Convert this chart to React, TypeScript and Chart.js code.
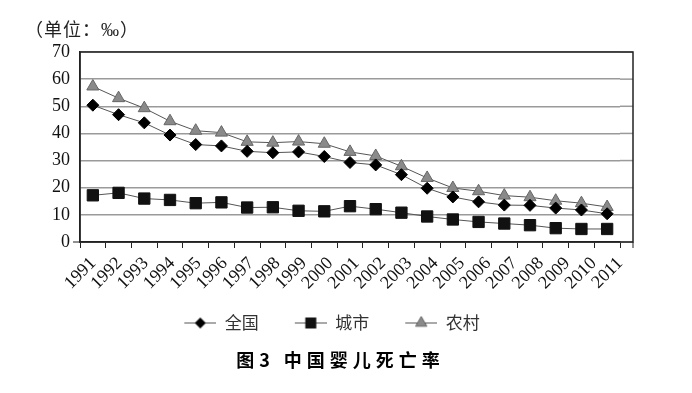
import React, { useEffect, useRef } from 'react';
import { Chart, registerables } from 'chart.js';

Chart.register(...registerables);

const years = ['1991','1992','1993','1994','1995','1996','1997','1998','1999','2000','2001','2002','2003','2004','2005','2006','2007','2008','2009','2010','2011'];
const national = [50.4, 46.9, 43.9, 39.4, 35.9, 35.4, 33.4, 32.9, 33.2, 31.5, 29.3, 28.4, 24.8, 19.8, 16.6, 14.8, 13.6, 13.5, 12.5, 11.8, 10.4];
const urban = [17.2, 18.1, 16.0, 15.5, 14.3, 14.6, 12.7, 12.8, 11.5, 11.3, 13.2, 12.1, 10.8, 9.4, 8.3, 7.4, 6.8, 6.2, 5.1, 4.8, 4.8];
const rural = [57.3, 53.0, 49.3, 44.5, 41.0, 40.3, 36.9, 36.6, 37.0, 36.2, 33.2, 31.7, 27.9, 23.6, 19.9, 18.7, 17.1, 16.5, 15.2, 14.3, 12.9];
const seriesNames = ['全国', '城市', '农村'];
const yMin = 0;
const yMax = 70;
const yStep = 10;
const unitLabel = '（单位：‰）';
const chartTitle = '图3 中国婴儿死亡率';

const LINE_COLOR = '#555';
const GRID_COLOR = '#9a9a9a';
const AXIS_COLOR = '#222';
const TRI_FILL = '#8a8a8a';
const TRI_BORDER = '#666';
const EXT = 13; // extra blank strip at the right of the plot frame
const ICON_GAP = 16; // blank lead-in of each legend icon
const ICON_W = 32;

function makeIcon(kind: string): HTMLCanvasElement {
  const c = document.createElement('canvas');
  c.width = ICON_GAP + ICON_W;
  c.height = 16;
  const ctx = c.getContext('2d')!;
  ctx.strokeStyle = LINE_COLOR;
  ctx.lineWidth = 1;
  ctx.beginPath();
  ctx.moveTo(ICON_GAP, 8.5);
  ctx.lineTo(ICON_GAP + ICON_W, 8.5);
  ctx.stroke();
  const cx = ICON_GAP + ICON_W / 2, cy = 8.5;
  ctx.beginPath();
  if (kind === 'diamond') {
    const r = 5.5;
    ctx.moveTo(cx, cy - r);
    ctx.lineTo(cx + r, cy);
    ctx.lineTo(cx, cy + r);
    ctx.lineTo(cx - r, cy);
    ctx.closePath();
    ctx.fillStyle = '#000';
    ctx.fill();
  } else if (kind === 'square') {
    const s = 5.5;
    ctx.rect(cx - s, cy - s, 2 * s, 2 * s);
    ctx.fillStyle = '#111';
    ctx.fill();
  } else {
    const r = 6.5;
    ctx.moveTo(cx, cy - r);
    ctx.lineTo(cx + r * Math.sin(Math.PI * 2 / 3), cy + r / 2);
    ctx.lineTo(cx - r * Math.sin(Math.PI * 2 / 3), cy + r / 2);
    ctx.closePath();
    ctx.fillStyle = TRI_FILL;
    ctx.fill();
    ctx.strokeStyle = TRI_BORDER;
    ctx.stroke();
  }
  return c;
}

const decorPlugin = {
  id: 'decor',
  beforeDatasetsDraw(chart: any) {
    const { ctx, chartArea: a, scales } = chart;
    const y = scales.y;
    ctx.save();
    ctx.strokeStyle = GRID_COLOR;
    ctx.lineWidth = 1.5;
    y.ticks.forEach((t: any) => {
      const py = y.getPixelForValue(t.value);
      ctx.beginPath();
      ctx.moveTo(a.right, py);
      ctx.lineTo(a.right + EXT, py);
      ctx.stroke();
    });
    ctx.strokeStyle = AXIS_COLOR;
    ctx.lineWidth = 1.5;
    ctx.strokeRect(a.left, a.top, a.right + EXT - a.left, a.bottom - a.top);
    const y0 = y.getPixelForValue(yMin);
    ctx.lineWidth = 1;
    ctx.beginPath();
    ctx.moveTo(a.left - 7, y0);
    ctx.lineTo(a.left, y0);
    ctx.moveTo(a.right + EXT, a.bottom);
    ctx.lineTo(a.right + EXT, a.bottom + 6);
    ctx.stroke();
    ctx.restore();
  },
  afterDraw(chart: any) {
    const { ctx } = chart;
    ctx.save();
    ctx.fillStyle = '#222';
    ctx.font = '18px "Liberation Serif", "Noto Sans CJK SC"';
    ctx.textAlign = 'left';
    ctx.textBaseline = 'middle';
    (ctx as any).letterSpacing = '1px';
    ctx.fillText(unitLabel, 25, 31);

    ctx.fillStyle = '#000';
    ctx.font = 'bold 18px "Noto Sans CJK SC"';
    (ctx as any).letterSpacing = '5px';
    const w = ctx.measureText(chartTitle).width - 5;
    ctx.fillText(chartTitle, 338 - w / 2, 360);
    ctx.restore();
  },
};

export default function App() {
  const ref = useRef<HTMLCanvasElement>(null);

  useEffect(() => {
    const canvas = ref.current!;
    const icons = [makeIcon('diamond'), makeIcon('square'), makeIcon('triangle')];
    const chart = new Chart(canvas, {
      type: 'line',
      data: {
        labels: years,
        datasets: [
          {
            label: seriesNames[0],
            data: national,
            borderColor: LINE_COLOR,
            borderWidth: 1,
            pointStyle: 'rectRot',
            pointRadius: 6,
            pointBackgroundColor: '#000',
            pointBorderColor: '#000',
            pointBorderWidth: 1,
          },
          {
            label: seriesNames[1],
            data: urban,
            borderColor: LINE_COLOR,
            borderWidth: 1,
            pointStyle: 'rect',
            pointRadius: 8,
            pointBackgroundColor: '#111',
            pointBorderColor: '#111',
            pointBorderWidth: 1,
          },
          {
            label: seriesNames[2],
            data: rural,
            borderColor: LINE_COLOR,
            borderWidth: 1,
            pointStyle: 'triangle',
            pointRadius: 7,
            pointBackgroundColor: TRI_FILL,
            pointBorderColor: TRI_BORDER,
            pointBorderWidth: 1,
          },
        ],
      },
      options: {
        responsive: false,
        animation: false,
        devicePixelRatio: 1,
        layout: { padding: { top: 52, left: 28, right: 72, bottom: 52 } },
        scales: {
          x: {
            type: 'category',
            offset: true,
            grid: {
              offset: true,
              drawOnChartArea: false,
              drawTicks: true,
              tickLength: 6,
              color: (c: any) => (c.index === years.length ? 'rgba(0,0,0,0)' : AXIS_COLOR),
              lineWidth: 1,
            },
            border: { color: AXIS_COLOR, width: 1.5 },
            ticks: { display: false },
            afterFit(scale: any) {
              scale.height = 6;
            },
          },
          xLabels: {
            type: 'linear',
            position: 'bottom',
            weight: 1,
            min: -0.5,
            max: years.length - 1,
            grid: { display: false, drawTicks: false },
            border: { display: false },
            afterBuildTicks(scale: any) {
              scale.ticks = years.map((_, i) => ({ value: i }));
            },
            ticks: {
              autoSkip: false,
              maxRotation: 45,
              minRotation: 45,
              padding: 5,
              color: '#111',
              font: { family: '"Liberation Serif"', size: 18 },
              callback: (v: any) => years[v] ?? '',
            },
            afterFit(scale: any) {
              scale.height = 46;
            },
          },
          y: {
            min: yMin,
            max: yMax,
            ticks: {
              stepSize: yStep,
              padding: 10,
              color: '#111',
              font: { family: '"Liberation Serif"', size: 18 },
            },
            grid: { color: GRID_COLOR, lineWidth: 1.5, drawTicks: false },
            border: { color: AXIS_COLOR, width: 1.5 },
            afterFit(scale: any) {
              scale.width = 52;
            },
          },
        },
        plugins: {
          title: { display: false },
          tooltip: { enabled: false },
          legend: {
            display: true,
            position: 'bottom',
            labels: {
              usePointStyle: true,
              pointStyleWidth: ICON_GAP + ICON_W,
              padding: 20,
              color: '#333',
              font: { family: '"Noto Sans CJK SC"', size: 17 },
              generateLabels(ch: any) {
                const items = Chart.defaults.plugins.legend.labels.generateLabels(ch);
                items.forEach((it: any, i: number) => {
                  it.pointStyle = icons[i];
                });
                return items;
              },
            },
          },
        },
      },
      plugins: [decorPlugin],
    });
    return () => chart.destroy();
  }, []);

  return (
    <div style={{ position: 'fixed', left: 0, top: 0, width: 692, height: 393, background: '#fff' }}>
      <canvas ref={ref} width={692} height={393} style={{ display: 'block', width: 692, height: 393 }} />
    </div>
  );
}
